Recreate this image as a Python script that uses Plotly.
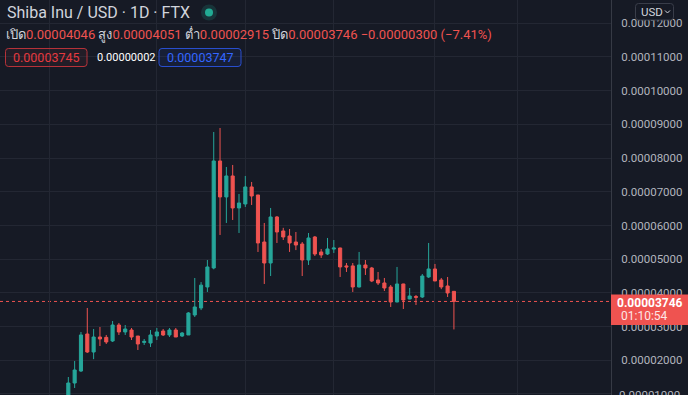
import plotly.graph_objects as go

# ---------------- data ----------------
days = list(range(62))
opens = [0.822e-5, 1.326e-5, 1.682e-5, 2.780e-5, 2.246e-5, 2.691e-5, 2.680e-5, 2.573e-5, 3.047e-5, 2.840e-5,
         2.899e-5, 2.720e-5, 2.530e-5, 2.513e-5, 2.721e-5, 2.869e-5, 2.751e-5, 2.899e-5, 2.720e-5, 2.751e-5,
         3.344e-5, 3.552e-5, 4.175e-5, 4.739e-5, 7.914e-5, 6.846e-5, 7.469e-5, 6.519e-5, 6.638e-5, 7.143e-5,
         6.905e-5, 5.510e-5, 4.887e-5, 6.252e-5, 5.837e-5, 5.688e-5, 5.510e-5, 5.450e-5, 4.976e-5, 5.659e-5,
         5.214e-5, 5.154e-5, 5.300e-5, 5.332e-5, 4.800e-5, 4.800e-5, 4.175e-5, 4.828e-5, 4.739e-5, 4.383e-5,
         4.294e-5, 4.175e-5, 3.730e-5, 4.264e-5, 3.819e-5, 3.890e-5, 3.878e-5, 4.472e-5, 4.709e-5, 4.383e-5,
         4.205e-5, 4.046e-5]
highs = [1.504e-5, 1.979e-5, 2.840e-5, 3.552e-5, 2.929e-5, 2.988e-5, 2.751e-5, 3.166e-5, 3.107e-5, 3.047e-5,
         2.958e-5, 2.720e-5, 2.632e-5, 2.899e-5, 2.958e-5, 2.929e-5, 2.958e-5, 2.958e-5, 2.840e-5, 3.430e-5,
         4.442e-5, 4.320e-5, 4.976e-5, 8.774e-5, 8.893e-5, 7.736e-5, 7.795e-5, 6.935e-5, 7.469e-5, 7.291e-5,
         6.905e-5, 6.074e-5, 6.519e-5, 6.280e-5, 5.930e-5, 5.896e-5, 5.807e-5, 5.510e-5, 5.777e-5, 5.688e-5,
         5.303e-5, 5.629e-5, 5.570e-5, 5.340e-5, 4.887e-5, 4.887e-5, 5.214e-5, 4.976e-5, 4.770e-5, 4.620e-5,
         4.442e-5, 4.234e-5, 4.769e-5, 4.270e-5, 4.145e-5, 3.938e-5, 4.560e-5, 5.481e-5, 4.858e-5, 4.442e-5,
         4.472e-5, 4.051e-5]
lows = [0.674e-5, 1.178e-5, 1.653e-5, 2.217e-5, 2.033e-5, 2.424e-5, 2.484e-5, 2.543e-5, 2.751e-5, 2.751e-5,
        2.602e-5, 2.306e-5, 2.454e-5, 2.395e-5, 2.602e-5, 2.720e-5, 2.691e-5, 2.690e-5, 2.690e-5, 2.750e-5,
        3.285e-5, 3.490e-5, 4.027e-5, 4.700e-5, 5.718e-5, 6.074e-5, 6.163e-5, 5.777e-5, 6.549e-5, 6.608e-5,
        5.214e-5, 4.264e-5, 4.501e-5, 5.481e-5, 5.570e-5, 5.214e-5, 5.270e-5, 4.501e-5, 4.828e-5, 5.095e-5,
        5.036e-5, 5.125e-5, 5.184e-5, 4.472e-5, 4.620e-5, 4.027e-5, 4.160e-5, 4.531e-5, 4.320e-5, 4.234e-5,
        4.056e-5, 3.582e-5, 3.720e-5, 3.522e-5, 3.810e-5, 3.641e-5, 3.850e-5, 4.442e-5, 4.350e-5, 4.110e-5,
        3.878e-5, 2.915e-5]
closes = [1.326e-5, 1.712e-5, 2.751e-5, 2.246e-5, 2.691e-5, 2.632e-5, 2.543e-5, 3.047e-5, 2.840e-5, 2.929e-5,
          2.691e-5, 2.484e-5, 2.560e-5, 2.751e-5, 2.840e-5, 2.751e-5, 2.899e-5, 2.691e-5, 2.810e-5, 3.404e-5,
          3.582e-5, 4.230e-5, 4.769e-5, 7.914e-5, 6.846e-5, 7.469e-5, 6.519e-5, 6.667e-5, 7.143e-5, 6.875e-5,
          5.481e-5, 4.887e-5, 6.252e-5, 5.807e-5, 5.659e-5, 5.481e-5, 5.420e-5, 4.976e-5, 5.629e-5, 5.154e-5,
          5.125e-5, 5.303e-5, 5.330e-5, 4.769e-5, 4.770e-5, 4.175e-5, 4.828e-5, 4.739e-5, 4.353e-5, 4.294e-5,
          4.145e-5, 3.730e-5, 4.264e-5, 3.789e-5, 3.908e-5, 3.870e-5, 4.501e-5, 4.709e-5, 4.353e-5, 4.175e-5,
          3.997e-5, 3.746e-5]
grid_days = [-3, 14, 28, 42, 58, 71]

title_text = "Shiba Inu / USD · 1D · FTX"
ohlc_labels = ["เปิด", "สูง", "ต่ำ", "ปิด"]
ohlc_values = ["0.00004046", "0.00004051", "0.00002915", "0.00003746"]
change_text = "−0.00000300 (−7.41%)"
bid_text = "0.00003745"
spread_text = "0.00000002"
ask_text = "0.00003747"
last_price = 3.746e-5
last_price_text = "0.00003746"
countdown_text = "01:10:54"
currency_text = "USD"
bottom_tick_text = "0.00001000"

# ---------------- style ----------------
W, H = 688, 395
PLOT_W = 611
BG = "#161a25"
GRID = "#232733"
AXIS = "#363a45"
UP = "#26a69a"
DOWN = "#ef5350"
TXT = "#d1d4dc"
FONT = "Roboto, 'Noto Sans', sans-serif"


def px(x):
    return x / PLOT_W


def py(y):
    return 1 - y / H


def rrect_path(x0, y0, x1, y1, r):
    pts = [
        ('M', x0 + r, y0), ('L', x1 - r, y0), ('Q', x1, y0, x1, y0 + r),
        ('L', x1, y1 - r), ('Q', x1, y1, x1 - r, y1), ('L', x0 + r, y1),
        ('Q', x0, y1, x0, y1 - r), ('L', x0, y0 + r), ('Q', x0, y0, x0 + r, y0),
    ]
    s = ''
    for p in pts:
        c = p[1:]
        s += p[0] + ' '.join(f"{px(c[i]):.5f},{py(c[i + 1]):.5f}" for i in range(0, len(c), 2)) + ' '
    return s + 'Z'


fig = go.Figure(go.Candlestick(
    x=days, open=opens, high=highs, low=lows, close=closes,
    increasing=dict(line=dict(color=UP, width=1), fillcolor=UP),
    decreasing=dict(line=dict(color=DOWN, width=1), fillcolor=DOWN),
    hoverinfo="skip",
))

shapes = []
# legend area hides grid
shapes.append(dict(type="rect", xref="paper", yref="paper", x0=px(0), x1=px(243), y0=py(70), y1=py(0),
                   fillcolor=BG, line=dict(width=0), layer="between"))
shapes.append(dict(type="rect", xref="paper", yref="paper", x0=px(0), x1=px(320), y0=py(112), y1=py(70),
                   fillcolor=BG, line=dict(width=0), layer="between"))
# last price dotted line
shapes.append(dict(type="line", xref="paper", yref="y", x0=0, x1=1, y0=last_price, y1=last_price,
                   line=dict(color=DOWN, width=1, dash="dot"), layer="between"))
# green status dot with glow
shapes.append(dict(type="circle", xref="paper", yref="paper", x0=px(201), x1=px(217), y0=py(20.5), y1=py(4.5),
                   fillcolor="rgba(34,171,148,0.18)", line=dict(width=0), layer="above"))
shapes.append(dict(type="circle", xref="paper", yref="paper", x0=px(205), x1=px(213), y0=py(16.5), y1=py(8.5),
                   fillcolor="#22ab94", line=dict(width=0), layer="above"))
# bid / ask boxes
shapes.append(dict(type="path", xref="paper", yref="paper", path=rrect_path(5.5, 48.5, 87, 66.5, 3),
                   fillcolor="rgba(239,83,80,0.06)", line=dict(color="#b8333a", width=1), layer="above"))
shapes.append(dict(type="path", xref="paper", yref="paper", path=rrect_path(159, 48.5, 241, 66.5, 3),
                   fillcolor="rgba(41,98,255,0.08)", line=dict(color="#2a4fd0", width=1), layer="above"))
# price label on axis
shapes.append(dict(type="rect", xref="paper", yref="paper", x0=px(611), x1=px(690), y0=py(325), y1=py(294.5),
                   fillcolor=DOWN, line=dict(width=0), layer="above"))
# currency button
shapes.append(dict(type="path", xref="paper", yref="paper", path=rrect_path(635.5, 3.5, 673.5, 20, 3),
                   fillcolor=BG, line=dict(color="#3a3e4a", width=1), layer="above"))
shapes.append(dict(type="path", xref="paper", yref="paper",
                   path=f"M{px(665):.5f},{py(10.5):.5f} L{px(667.5):.5f},{py(13):.5f} L{px(670):.5f},{py(10.5):.5f}",
                   line=dict(color=TXT, width=1), layer="above"))

annotations = []


def ann(x, y, text, size, color, anchor="left", weight="normal", yanchor="middle"):
    annotations.append(dict(xref="paper", yref="paper", x=px(x), y=py(y), text=text, showarrow=False,
                            xanchor=anchor, yanchor=yanchor,
                            font=dict(family=FONT, size=size, color=color, weight=weight)))


ann(5, 13, title_text, 16, TXT)
parts = []
for lab, val in zip(ohlc_labels, ohlc_values):
    parts.append(f"<span style='color:{TXT}'>{lab}</span><span style='color:{DOWN}'>{val}</span>")
line2 = " ".join(parts) + f" <span style='color:{DOWN}'>{change_text}</span>"
ann(4, 34, line2, 13, DOWN)
ann(46, 57.5, bid_text, 12.5, "#e5393f", anchor="center")
ann(95, 57.5, spread_text, 11, "#ffffff")
ann(200, 57.5, ask_text, 12.5, "#3366ff", anchor="center")
ann(650, 303, last_price_text, 12, "#ffffff", anchor="center", weight="bold")
ann(619, 316, countdown_text, 12, "#fde6e6")
ann(639, 12, currency_text, 11.5, TXT)
ann(617, 386, bottom_tick_text, 11.5, "#b2b5be", yanchor="top")

fig.update_layout(
    width=W, height=H,
    margin=dict(l=0, r=W - PLOT_W, t=0, b=0),
    paper_bgcolor=BG, plot_bgcolor=BG,
    showlegend=False,
    shapes=shapes, annotations=annotations,
    xaxis=dict(range=[-10.81, 85.85], rangeslider=dict(visible=False), showgrid=True, gridcolor=GRID,
               tickmode="array", tickvals=grid_days, showticklabels=False, zeroline=False, ticks=""),
    yaxis=dict(side="right", range=[0.97e-5, 12.69e-5], tick0=0, dtick=1e-5, tickformat=".8f",
               showgrid=True, gridcolor=GRID, zeroline=False, showline=True, linecolor=AXIS, linewidth=1,
               ticks="outside", ticklen=7, tickcolor="rgba(0,0,0,0)",
               tickfont=dict(family=FONT, size=11.5, color="#b2b5be")),
)

fig.write_html("out.html", config={"displayModeBar": False},
               post_script="document.body.style.margin='0';document.body.style.background='#161a25';")
